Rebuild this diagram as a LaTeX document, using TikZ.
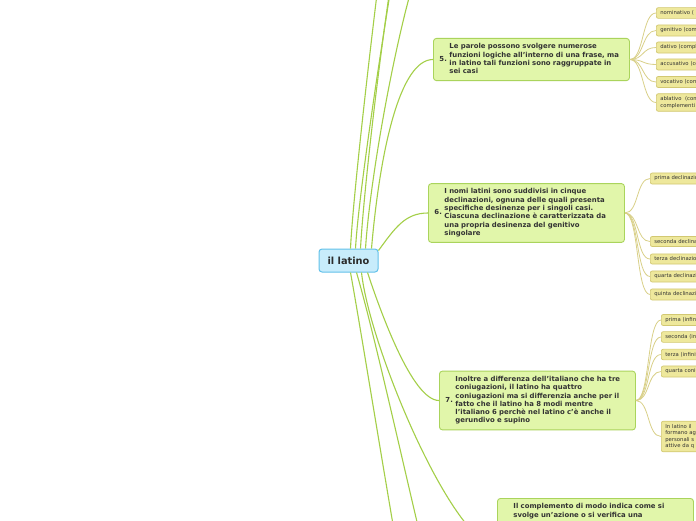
\documentclass[tikz,border=0pt]{standalone}
\usepackage{fontspec}
\setmainfont{DejaVu Sans}
\definecolor{ctrfill}{HTML}{C8ECFB}
\definecolor{ctrline}{HTML}{62C1EA}
\definecolor{topfill}{HTML}{E1F6AA}
\definecolor{topline}{HTML}{AAD45C}
\definecolor{subfill}{HTML}{EEE89C}
\definecolor{subline}{HTML}{D2C872}
\definecolor{brline}{HTML}{A4CF48}
\definecolor{twline}{HTML}{D9D088}
\definecolor{txt}{HTML}{333333}

\begin{document}
\begin{tikzpicture}[
  x=1pt,y=-1pt,
  font=\fontsize{6.9}{8.3}\selectfont\bfseries,
  ctrbox/.style={rectangle,rounded corners=3pt,draw=ctrline,line width=1pt,fill=ctrfill,
                 minimum width=59pt,minimum height=23pt,inner sep=0pt,text=txt!85!black,
                 font=\fontsize{9.8}{11}\selectfont\bfseries},
  topic/.style={rectangle,rounded corners=3pt,draw=topline,line width=0.9pt,fill=topfill,
                text width=184pt,align=left,inner xsep=6pt,inner ysep=4.5pt,text=txt,anchor=west},
  subbox/.style={rectangle,rounded corners=2pt,draw=subline,line width=0.7pt,fill=subfill,
                 text width=70pt,align=left,inner xsep=4pt,inner ysep=3pt,anchor=west,text=txt,
                 font=\fontsize{5.3}{6.5}\selectfont},
  branch/.style={draw=brline,line width=1.1pt},
  twig/.style={draw=twline,line width=0.8pt},
]
\useasboundingbox (0,0) rectangle (696,520);
\fill[white] (0,0) rectangle (696,520);
\clip (0,0) rectangle (696,520);

% centre
\node[ctrbox] (ctr) at (348.5,260.5) {il latino};

% topics
\node[topic] (t5) at (433,59.5) {\makebox[10pt][l]{5.}\begin{tabular}[c]{@{}l@{}}
  Le parole possono svolgere numerose\\
  funzioni logiche all'interno di una frase, ma\\
  in latino tali funzioni sono raggruppate in\\
  sei casi\end{tabular}};
\node[topic] (t6) at (428,213) {\makebox[10pt][l]{6.}\begin{tabular}[c]{@{}l@{}}
  I nomi latini sono suddivisi in cinque\\
  declinazioni, ognuna delle quali presenta\\
  specifiche desinenze per i singoli casi.\\
  Ciascuna declinazione è caratterizzata da\\
  una propria desinenza del genitivo\\
  singolare\end{tabular}};
\node[topic] (t7) at (439,400.5) {\makebox[10pt][l]{7.}\begin{tabular}[c]{@{}l@{}}
  Inoltre a differenza dell'italiano che ha tre\\
  coniugazioni, il latino ha quattro\\
  coniugazioni ma si differenzia anche per il\\
  fatto che il latino ha 8 modi mentre\\
  l'italiano 6 perchè nel latino c'è anche il\\
  gerundivo e supino\end{tabular}};
\node[topic,anchor=north west] (t8) at (497,498) {\makebox[10pt][l]{}\begin{tabular}[t]{@{}l@{}}
  Il complemento di modo indica come si\\
  svolge un'azione o si verifica una\end{tabular}\rule[-80pt]{0pt}{0pt}};

% branch ends above and below the page
\coordinate (e1) at (455,-470);
\coordinate (e2) at (455,-330);
\coordinate (e3) at (433,-200);
\coordinate (e4) at (433,-60);
\coordinate (e9) at (450,640);
\coordinate (e10) at (450,800);

% casi
\node[subbox] (n1) at (656,13) {nominativo (};
\node[subbox] (n2) at (656,30.5) {genitivo (complemento};
\node[subbox] (n3) at (656,47.5) {dativo (complemento};
\node[subbox] (n4) at (656,64.5) {accusativo (complemento};
\node[subbox] (n5) at (656,82) {vocativo (complemento};
\node[subbox] (n6) at (656,102.5) {ablativo\ \ (complemento\\complementi};

% declinazioni
\node[subbox] (d1) at (650,178.5) {prima declinazione};
\node[subbox] (d2) at (650,241.5) {seconda declinazione};
\node[subbox] (d3) at (650,259) {terza declinazione};
\node[subbox] (d4) at (650,276.5) {quarta declinazione};
\node[subbox] (d5) at (650,294.5) {quinta declinazione};

% coniugazioni
\node[subbox] (c1) at (661,320) {prima (infinito};
\node[subbox] (c2) at (661,337) {seconda (infinito};
\node[subbox] (c3) at (661,354.5) {terza (infinito};
\node[subbox] (c4) at (661,371.5) {quarta coniugazione};
\node[subbox] (c5) at (661,436.5) {In latino il\\formano ag\\personali s\\attive da q};

% branches
\draw[branch] ([xshift=32pt]ctr.north west) .. controls (355,150) and (430,-470) .. (e1);
\draw[branch] ([xshift=37pt]ctr.north west) .. controls (361,150) and (440,-330) .. (e2);
\draw[branch] ([xshift=42pt]ctr.north west) .. controls (366,150) and (410,-200) .. (e3);
\draw[branch] ([xshift=47pt]ctr.north west) .. controls (372,150) and (415,-60) .. (e4);
\draw[branch] ([xshift=53pt]ctr.north west) .. controls (380,150) and (400,59.5) .. (t5.west);
\draw[branch] ([yshift=-2pt]ctr.north east) .. controls (395,228) and (405,213) .. (t6.west);
\draw[branch] ([xshift=49pt]ctr.south west) .. controls (380,310) and (412,400.5) .. (t7.west);
\draw[branch] ([xshift=43pt]ctr.south west) .. controls (370,350) and (455,548) .. (t8.west);
\draw[branch] ([xshift=38pt]ctr.south west) .. controls (385,370) and (440,640) .. (e9);
\draw[branch] ([xshift=32pt]ctr.south west) .. controls (370,380) and (435,800) .. (e10);

% twigs
\foreach \n in {n1,n2,n3,n4,n5,n6}
  \draw[twig] (t5.east) .. controls +(14,0) and +(-14,0) .. (\n.west);
\foreach \n in {d1,d2,d3,d4,d5}
  \draw[twig] (t6.east) .. controls +(14,0) and +(-14,0) .. (\n.west);
\foreach \n in {c1,c2,c3,c4,c5}
  \draw[twig] (t7.east) .. controls +(14,0) and +(-14,0) .. (\n.west);
\end{tikzpicture}
\end{document}
